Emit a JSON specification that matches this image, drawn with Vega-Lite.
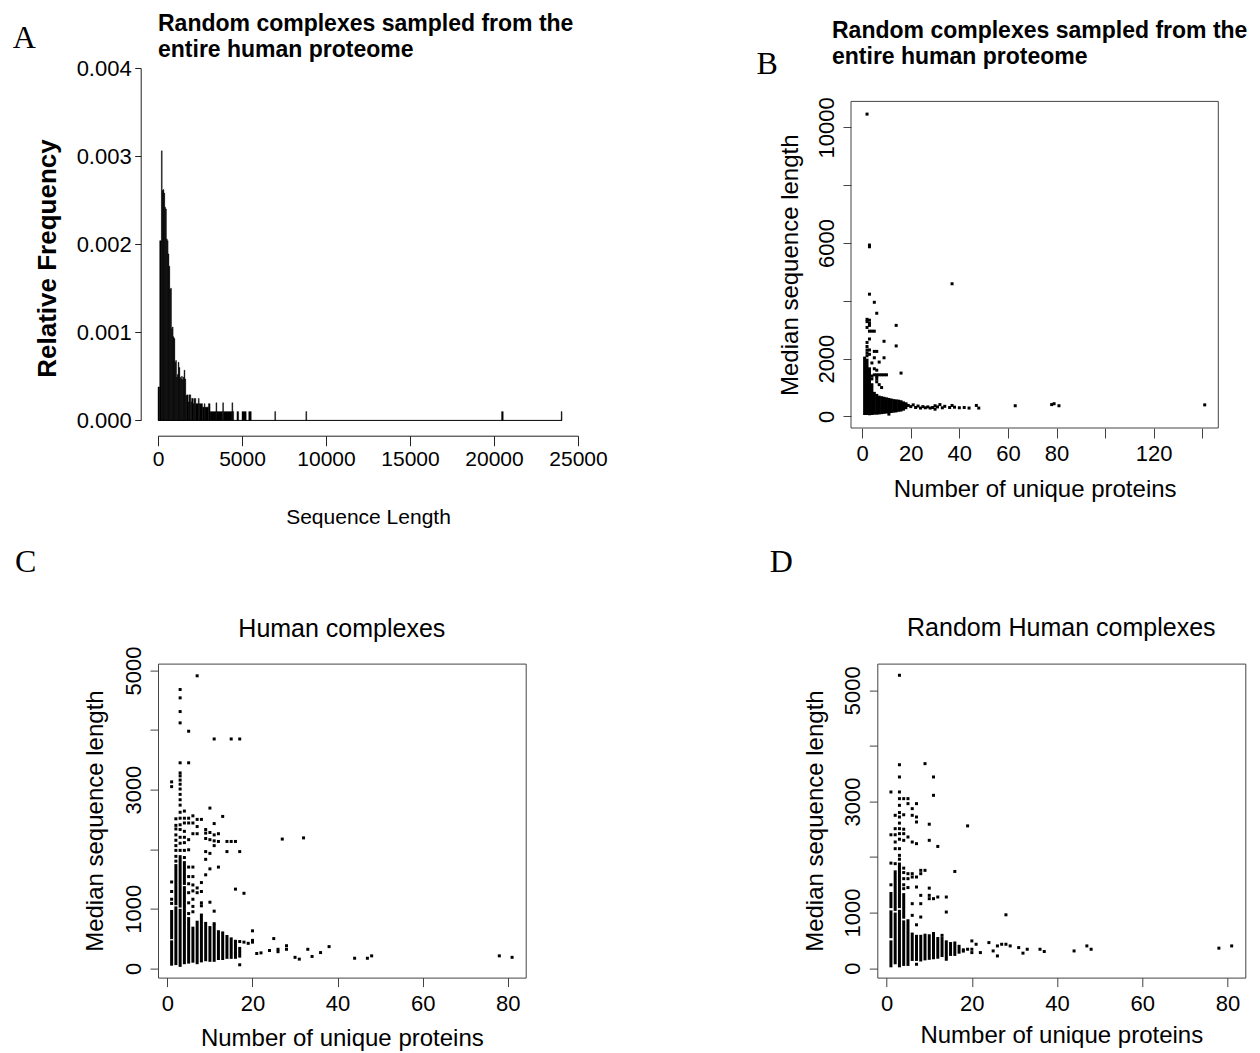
{
"$schema": "https://vega.github.io/schema/vega-lite/v6.json",
"background": "white",
"padding": {"left": 12, "top": 13, "right": 0, "bottom": 0},
"spacing": 16.6,
"config": {
 "font": "Liberation Sans",
 "view": {"stroke": null},
 "axis": {"grid": false, "labelFont": "Liberation Sans", "titleFont": "Liberation Sans", "labelColor": "black", "titleColor": "black", "labelFlush": false, "labelOverlap": false, "titleFontWeight": "normal", "tickColor": "#444", "domainColor": "#444", "tickWidth": 1, "domainWidth": 1, "minExtent": 0},
 "title": {"font": "Liberation Sans", "color": "black"}
},
"datasets": {
 "hist": [
  {"s":0,"e":100,"d":0.00038},{"s":100,"e":200,"d":0.00204},{"s":200,"e":250,"d":0.00306},{"s":250,"e":300,"d":0.00261},{"s":300,"e":350,"d":0.00262},{"s":350,"e":400,"d":0.00258},{"s":400,"e":450,"d":0.00242},{"s":450,"e":500,"d":0.0024},{"s":500,"e":550,"d":0.00206},{"s":550,"e":600,"d":0.00204},{"s":600,"e":650,"d":0.00189},{"s":650,"e":700,"d":0.00175},{"s":700,"e":750,"d":0.00149},{"s":750,"e":800,"d":0.0015},{"s":800,"e":850,"d":0.00104},{"s":850,"e":900,"d":0.00106},{"s":900,"e":950,"d":0.00095},{"s":950,"e":1000,"d":0.00093},{"s":1000,"e":1050,"d":0.00066},{"s":1050,"e":1100,"d":0.00068},{"s":1100,"e":1150,"d":0.00049},{"s":1150,"e":1200,"d":0.00052},{"s":1200,"e":1250,"d":0.00066},{"s":1250,"e":1300,"d":0.0006},{"s":1300,"e":1350,"d":0.00049},{"s":1350,"e":1400,"d":0.00047},{"s":1400,"e":1450,"d":0.0005},{"s":1450,"e":1500,"d":0.00046},{"s":1500,"e":1550,"d":0.00049},{"s":1550,"e":1600,"d":0.00057},{"s":1600,"e":1650,"d":0.00047},{"s":1650,"e":1700,"d":0.00028},{"s":1700,"e":1800,"d":0.00029},{"s":1800,"e":1850,"d":0.00021},{"s":1850,"e":1950,"d":0.00029},{"s":1950,"e":2000,"d":0.00021},{"s":2000,"e":2100,"d":0.00025},{"s":2100,"e":2150,"d":0.00019},{"s":2150,"e":2250,"d":0.00025},{"s":2250,"e":2400,"d":0.00019},{"s":2400,"e":2450,"d":0.00025},{"s":2450,"e":2650,"d":0.00019},{"s":2650,"e":2750,"d":0.00015},{"s":2750,"e":2800,"d":0.00019},{"s":2800,"e":3000,"d":0.00015},{"s":3000,"e":3100,"d":0.00019},{"s":3100,"e":3450,"d":0.0001},{"s":3450,"e":3500,"d":0.0002},{"s":3500,"e":3850,"d":0.0001},{"s":3850,"e":3900,"d":0.0002},{"s":3900,"e":4400,"d":0.0001},{"s":4400,"e":4450,"d":0.0002},{"s":4450,"e":4500,"d":0.0001},{"s":4700,"e":4800,"d":0.0001},{"s":5000,"e":5250,"d":0.0001},{"s":5400,"e":5550,"d":0.0001},{"s":6950,"e":7000,"d":0.0001},{"s":8800,"e":8850,"d":0.0001},{"s":20450,"e":20550,"d":0.0001},{"s":24000,"e":24050,"d":0.0001}
 ],
 "bcol": [
  {"n":1,"lo":50,"hi":2070},{"n":2,"lo":50,"hi":2000},{"n":3,"lo":40,"hi":1700},{"n":4,"lo":50,"hi":1150},{"n":5,"lo":60,"hi":850},{"n":6,"lo":60,"hi":780},{"n":7,"lo":70,"hi":720},{"n":8,"lo":80,"hi":700},{"n":9,"lo":90,"hi":680},{"n":10,"lo":100,"hi":660},{"n":11,"lo":110,"hi":640},{"n":12,"lo":120,"hi":620},{"n":13,"lo":130,"hi":600},{"n":14,"lo":140,"hi":590},{"n":15,"lo":160,"hi":580},{"n":16,"lo":170,"hi":560},{"n":17,"lo":200,"hi":520},{"n":18,"lo":250,"hi":480}
 ],
 "bpt": [
  {"n":2,"m":10460},{"n":3,"m":5930},{"n":3,"m":5870},{"n":37,"m":4590},{"n":3,"m":4230},{"n":5,"m":3950},{"n":6,"m":3570},{"n":2,"m":3360},{"n":3,"m":3330},{"n":2,"m":3280},{"n":3,"m":3220},{"n":3,"m":3150},{"n":2,"m":3080},{"n":14,"m":3150},{"n":3,"m":2950},{"n":4,"m":2950},{"n":5,"m":2950},{"n":9,"m":2600},{"n":3,"m":2680},{"n":2,"m":2560},{"n":14,"m":2440},{"n":2,"m":2100},{"n":2,"m":2200},{"n":2,"m":2300},{"n":2,"m":2420},{"n":3,"m":2300},{"n":3,"m":2150},{"n":5,"m":2250},{"n":6,"m":2250},{"n":5,"m":2030},{"n":9,"m":2030},{"n":7,"m":1880},{"n":4,"m":1850},{"n":5,"m":1650},{"n":6,"m":1600},{"n":16,"m":1500},{"n":5,"m":1440},{"n":6,"m":1440},{"n":7,"m":1440},{"n":8,"m":1440},{"n":9,"m":1440},{"n":10,"m":1440},{"n":6,"m":1380},{"n":6,"m":1300},{"n":6,"m":1200},{"n":7,"m":1100},{"n":8,"m":1000},{"n":4,"m":1400},{"n":4,"m":1300},{"n":11,"m":80},{"n":18,"m":430},{"n":19,"m":380},{"n":20,"m":340},{"n":21,"m":400},{"n":22,"m":310},{"n":23,"m":360},{"n":24,"m":290},{"n":25,"m":340},{"n":26,"m":300},{"n":27,"m":330},{"n":28,"m":290},{"n":29,"m":310},{"n":30,"m":250},{"n":30,"m":370},{"n":31,"m":330},{"n":32,"m":410},{"n":33,"m":300},{"n":34,"m":350},{"n":36,"m":310},{"n":37,"m":380},{"n":38,"m":320},{"n":40,"m":300},{"n":42,"m":310},{"n":44,"m":290},{"n":47,"m":380},{"n":48,"m":290},{"n":63,"m":370},{"n":78,"m":410},{"n":79,"m":440},{"n":81,"m":370},{"n":141,"m":400}
 ],
 "ccol": [
  {"n":1,"lo":45,"hi":470},{"n":1,"lo":490,"hi":980},{"n":2,"lo":55,"hi":1040},{"n":2,"lo":1060,"hi":1750},{"n":3,"lo":25,"hi":1000},{"n":3,"lo":1020,"hi":1900},{"n":4,"lo":70,"hi":1380},{"n":4,"lo":1400,"hi":1800},{"n":5,"lo":80,"hi":860},{"n":6,"lo":95,"hi":700},{"n":7,"lo":70,"hi":800},{"n":8,"lo":100,"hi":920},{"n":9,"lo":120,"hi":780},{"n":10,"lo":110,"hi":710},{"n":11,"lo":110,"hi":740},{"n":12,"lo":140,"hi":640},{"n":13,"lo":140,"hi":620},{"n":14,"lo":160,"hi":560},{"n":15,"lo":160,"hi":520},{"n":16,"lo":160,"hi":480},{"n":17,"lo":180,"hi":360}
 ],
 "cpt": [
  {"n":1,"m":1090},{"n":1,"m":1160},{"n":1,"m":1290},{"n":1,"m":1450},{"n":1,"m":3050},{"n":1,"m":3130},
  {"n":2,"m":1800},{"n":2,"m":1880},{"n":2,"m":1980},{"n":2,"m":2060},{"n":2,"m":2150},{"n":2,"m":2240},{"n":2,"m":2340},{"n":2,"m":2400},{"n":2,"m":2510},
  {"n":3,"m":1980},{"n":3,"m":2100},{"n":3,"m":2200},{"n":3,"m":2330},{"n":3,"m":2410},{"n":3,"m":2520},{"n":3,"m":2620},{"n":3,"m":2740},{"n":3,"m":2830},{"n":3,"m":2920},{"n":3,"m":3010},{"n":3,"m":3090},{"n":3,"m":3160},{"n":3,"m":3230},{"n":3,"m":3280},{"n":3,"m":3450},{"n":3,"m":4120},{"n":3,"m":4310},{"n":3,"m":4540},{"n":3,"m":4680},
  {"n":4,"m":1860},{"n":4,"m":1980},{"n":4,"m":2110},{"n":4,"m":2200},{"n":4,"m":2300},{"n":4,"m":2440},{"n":4,"m":2520},{"n":4,"m":2640},
  {"n":5,"m":920},{"n":5,"m":1100},{"n":5,"m":1270},{"n":5,"m":1420},{"n":5,"m":1540},{"n":5,"m":1700},{"n":5,"m":1990},{"n":5,"m":2160},{"n":5,"m":2440},{"n":5,"m":2520},{"n":5,"m":3450},{"n":5,"m":3980},
  {"n":6,"m":950},{"n":6,"m":1040},{"n":6,"m":1160},{"n":6,"m":1300},{"n":6,"m":1400},{"n":6,"m":1540},{"n":6,"m":1700},{"n":6,"m":2260},{"n":6,"m":2440},{"n":6,"m":2560},
  {"n":7,"m":1270},{"n":7,"m":1350},{"n":7,"m":2260},{"n":7,"m":2380},{"n":7,"m":2500},{"n":7,"m":4910},
  {"n":8,"m":1050},{"n":8,"m":1100},{"n":8,"m":1290},{"n":8,"m":1440},{"n":8,"m":2500},
  {"n":9,"m":1570},{"n":9,"m":1830},{"n":9,"m":1960},{"n":9,"m":2180},{"n":9,"m":2270},{"n":9,"m":2330},
  {"n":10,"m":1110},{"n":10,"m":1670},{"n":10,"m":1930},{"n":10,"m":2160},{"n":10,"m":2280},{"n":10,"m":2690},
  {"n":11,"m":750},{"n":11,"m":960},{"n":11,"m":2060},{"n":11,"m":2140},{"n":11,"m":2240},{"n":11,"m":2430},{"n":11,"m":3850},
  {"n":12,"m":1700},{"n":12,"m":2130},{"n":12,"m":2260},{"n":13,"m":2550},{"n":14,"m":1960},{"n":14,"m":2130},{"n":15,"m":2130},{"n":15,"m":3850},
  {"n":16,"m":1330},{"n":16,"m":2130},{"n":16,"m":250},{"n":17,"m":1960},{"n":17,"m":3850},{"n":17,"m":60},{"n":17,"m":450},
  {"n":18,"m":440},{"n":18,"m":1260},{"n":19,"m":420},{"n":20,"m":440},{"n":20,"m":470},{"n":20,"m":630},{"n":21,"m":250},{"n":22,"m":260},{"n":24,"m":300},{"n":25,"m":500},{"n":26,"m":280},{"n":26,"m":320},{"n":27,"m":2170},{"n":28,"m":320},{"n":28,"m":380},{"n":30,"m":185},{"n":31,"m":155},{"n":32,"m":2190},{"n":33,"m":320},{"n":34,"m":200},{"n":36,"m":265},{"n":38,"m":365},{"n":44,"m":170},{"n":47,"m":170},{"n":48,"m":210},{"n":78,"m":210},{"n":81,"m":185}
 ],
 "dcol": [
  {"n":1,"lo":15,"hi":500},{"n":1,"lo":540,"hi":1040},{"n":1,"lo":1080,"hi":1370},{"n":2,"lo":70,"hi":1000},{"n":2,"lo":1030,"hi":1760},{"n":3,"lo":15,"hi":1050},{"n":3,"lo":1080,"hi":1900},{"n":4,"lo":40,"hi":860},{"n":4,"lo":890,"hi":1350},{"n":5,"lo":40,"hi":880},{"n":6,"lo":130,"hi":640},{"n":7,"lo":130,"hi":600},{"n":8,"lo":120,"hi":600},{"n":9,"lo":140,"hi":620},{"n":10,"lo":150,"hi":610},{"n":11,"lo":160,"hi":650},{"n":12,"lo":170,"hi":560},{"n":13,"lo":200,"hi":560},{"n":14,"lo":180,"hi":500},{"n":15,"lo":220,"hi":470},{"n":16,"lo":220,"hi":480},{"n":17,"lo":260,"hi":420},{"n":18,"lo":280,"hi":330}
 ],
 "dpt": [
  {"n":1,"m":1500},{"n":1,"m":1890},{"n":1,"m":2400},{"n":1,"m":3170},
  {"n":2,"m":1880},{"n":2,"m":2150},{"n":2,"m":2270},{"n":2,"m":2400},{"n":2,"m":2510},{"n":2,"m":2750},
  {"n":3,"m":1960},{"n":3,"m":2030},{"n":3,"m":2150},{"n":3,"m":2320},{"n":3,"m":2420},{"n":3,"m":2510},{"n":3,"m":2610},{"n":3,"m":2720},{"n":3,"m":2800},{"n":3,"m":2930},{"n":3,"m":3050},{"n":3,"m":3170},{"n":3,"m":3440},{"n":3,"m":3660},{"n":3,"m":5270},
  {"n":4,"m":1430},{"n":4,"m":1500},{"n":4,"m":1610},{"n":4,"m":1720},{"n":4,"m":1800},{"n":4,"m":2300},{"n":4,"m":2420},{"n":4,"m":2500},{"n":4,"m":2760},{"n":4,"m":3050},
  {"n":5,"m":1450},{"n":5,"m":1610},{"n":5,"m":1700},{"n":5,"m":2360},{"n":5,"m":2960},{"n":5,"m":3050},
  {"n":6,"m":950},{"n":6,"m":1160},{"n":6,"m":1640},{"n":6,"m":1700},{"n":6,"m":2270},{"n":6,"m":2750},{"n":6,"m":2870},
  {"n":7,"m":70},{"n":7,"m":780},{"n":7,"m":1460},{"n":7,"m":1640},{"n":7,"m":2240},{"n":7,"m":2630},{"n":7,"m":2720},{"n":7,"m":2960},
  {"n":8,"m":920},{"n":8,"m":1160},{"n":8,"m":1310},{"n":8,"m":1700},{"n":8,"m":1760},
  {"n":9,"m":1760},{"n":9,"m":3680},
  {"n":10,"m":1250},{"n":10,"m":1310},{"n":10,"m":1440},{"n":10,"m":2300},{"n":10,"m":2590},
  {"n":11,"m":1250},{"n":11,"m":3110},{"n":11,"m":3440},{"n":12,"m":1280},{"n":12,"m":2190},{"n":13,"m":590},{"n":14,"m":160},{"n":14,"m":1010},{"n":14,"m":1280},{"n":16,"m":1740},
  {"n":18,"m":330},{"n":19,"m":2560},{"n":19,"m":340},{"n":20,"m":280},{"n":20,"m":340},{"n":20,"m":490},{"n":21,"m":430},{"n":22,"m":280},{"n":24,"m":460},{"n":25,"m":310},{"n":26,"m":220},{"n":26,"m":400},{"n":27,"m":430},{"n":28,"m":960},{"n":28,"m":430},{"n":29,"m":400},{"n":31,"m":370},{"n":32,"m":270},{"n":33,"m":340},{"n":36,"m":340},{"n":37,"m":300},{"n":44,"m":310},{"n":47,"m":400},{"n":48,"m":340},{"n":78,"m":360},{"n":81,"m":400}
 ]
},
"vconcat": [
 {"hconcat": [
  {
   "width": 420, "height": 352.4,
   "title": {"text": ["Random complexes sampled from the", "entire human proteome"], "anchor": "start", "frame": "group", "fontSize": 23, "fontWeight": "bold", "baseline": "bottom", "lineHeight": 26, "offset": -63},
   "layer": [
    {"data": {"name": "hist"}, "mark": {"type": "rect", "color": "black", "stroke": "black", "strokeWidth": 0.4},
     "encoding": {
      "x": {"field": "s", "type": "quantitative", "title": "Sequence Length", "scale": {"domain": [0, 25000], "nice": false, "zero": false},
            "axis": {"values": [0, 5000, 10000, 15000, 20000, 25000], "format": "d", "offset": 15.3, "tickSize": 10, "domainColor": "#222", "tickColor": "#222", "labelFontSize": 21, "labelPadding": 3, "titleFontSize": 21, "titlePadding": 37}},
      "x2": {"field": "e"},
      "y": {"field": "d", "type": "quantitative", "title": "Relative Frequency", "scale": {"domain": [0, 0.004], "nice": false},
            "axis": {"values": [0, 0.001, 0.002, 0.003, 0.004], "format": ".3f", "offset": 17.3, "tickSize": 6, "domainColor": "#222", "tickColor": "#222", "labelFontSize": 22, "labelAngle": 0, "labelAlign": "right", "labelBaseline": "middle", "labelPadding": 3.5, "titleFontSize": 26, "titleFontWeight": "bold", "titleBaseline": "alphabetic", "titlePadding": 21, "titleY": 190}},
      "y2": {"datum": 0}
     }},
    {"data": {"values": [{}]}, "mark": {"type": "rule", "color": "black", "strokeWidth": 1},
     "encoding": {"x": {"datum": 0, "type": "quantitative"}, "x2": {"datum": 24050}, "y": {"datum": 0, "type": "quantitative"}}},
    {"data": {"values": [{"t": "A"}]}, "mark": {"type": "text", "font": "Liberation Serif", "fontSize": 32, "align": "left", "baseline": "alphabetic", "color": "black"},
     "encoding": {"x": {"datum": -8649, "type": "quantitative"}, "y": {"datum": 0.004227, "type": "quantitative"}, "text": {"field": "t"}}}
   ]
  },
  {
   "width": 367.3, "height": 360,
   "title": {"text": ["Random complexes sampled from the", "entire human proteome"], "anchor": "start", "frame": "group", "fontSize": 23, "fontWeight": "bold", "baseline": "bottom", "lineHeight": 26, "offset": -43.9, "dx": -19},
   "layer": [
    {"data": {"values": [{}]}, "mark": {"type": "rect", "fillOpacity": 0, "stroke": "#444", "strokeWidth": 1},
     "encoding": {"x": {"datum": -4.6, "type": "quantitative"}, "x2": {"datum": 146.6}, "y": {"datum": -400, "type": "quantitative"}, "y2": {"datum": 10900}}},
    {"data": {"name": "bcol"}, "mark": {"type": "rule", "strokeWidth": 3, "color": "black"},
     "encoding": {
      "x": {"field": "n", "type": "quantitative", "title": "Number of unique proteins", "scale": {"domain": [-4.6, 146.6], "nice": false, "zero": false},
            "axis": {"values": [0, 20, 40, 60, 80, 100, 120, 140], "format": "d", "labelExpr": "datum.value == 100 || datum.value == 140 ? '' : datum.label", "domain": false, "tickSize": 10, "labelFontSize": 22, "labelPadding": 5, "titleFontSize": 24, "titlePadding": 13}},
      "y": {"field": "lo", "type": "quantitative", "title": "Median sequence length", "scale": {"domain": [-400, 12055.5], "nice": false, "zero": false},
            "axis": {"values": [0, 2000, 4000, 6000, 8000, 10000], "format": "d", "labelExpr": "datum.value == 4000 || datum.value == 8000 ? '' : datum.label", "domain": false, "tickSize": 8, "labelAngle": 270, "labelAlign": "center", "labelBaseline": "alphabetic", "labelFontSize": 22, "labelPadding": 10, "titleFontSize": 24, "titleBaseline": "alphabetic", "titlePadding": 18, "titleY": 196.7}},
      "y2": {"field": "hi"}
     }},
    {"data": {"name": "bpt"}, "mark": {"type": "square", "size": 9, "color": "black", "opacity": 1},
     "encoding": {"x": {"field": "n", "type": "quantitative", "title": "Number of unique proteins"}, "y": {"field": "m", "type": "quantitative", "title": "Median sequence length"}}},
    {"data": {"values": [{"t": "B"}]}, "mark": {"type": "text", "font": "Liberation Serif", "fontSize": 32, "align": "left", "baseline": "alphabetic", "color": "black"},
     "encoding": {"x": {"datum": -43.5, "type": "quantitative"}, "y": {"datum": 11858, "type": "quantitative"}, "text": {"field": "t"}}}
   ]
  }
 ], "spacing": 273, "bounds": "flush"},
 {"hconcat": [
  {
   "width": 367.7, "height": 314,
   "view": {"stroke": "#444", "strokeWidth": 1},
   "title": {"text": "Human complexes", "anchor": "middle", "frame": "group", "fontSize": 25, "fontWeight": "normal", "baseline": "bottom", "offset": -121.5},
   "layer": [
    {"data": {"name": "ccol"}, "mark": {"type": "rule", "strokeWidth": 3, "color": "black"},
     "encoding": {
      "x": {"field": "n", "type": "quantitative", "title": "Number of unique proteins", "scale": {"domain": [-2.2, 84.2], "nice": false, "zero": false},
            "axis": {"values": [0, 20, 40, 60, 80], "format": "d", "domain": false, "tickSize": 9, "labelFontSize": 22, "labelPadding": 7, "titleFontSize": 24, "titlePadding": 12}},
      "y": {"field": "lo", "type": "quantitative", "title": "Median sequence length", "scale": {"domain": [-155, 5115], "nice": false, "zero": false},
            "axis": {"values": [0, 1000, 2000, 3000, 4000, 5000], "format": "d", "labelExpr": "datum.value == 2000 || datum.value == 4000 ? '' : datum.label", "domain": false, "tickSize": 8, "labelAngle": 270, "labelAlign": "center", "labelBaseline": "alphabetic", "labelFontSize": 22, "labelPadding": 10, "titleFontSize": 24, "titleBaseline": "alphabetic", "titlePadding": 20}},
      "y2": {"field": "hi"}
     }},
    {"data": {"name": "cpt"}, "mark": {"type": "square", "size": 9, "color": "black", "opacity": 1},
     "encoding": {"x": {"field": "n", "type": "quantitative", "title": "Number of unique proteins"}, "y": {"field": "m", "type": "quantitative", "title": "Median sequence length"}}},
    {"data": {"values": [{"t": "C"}]}, "mark": {"type": "text", "font": "Liberation Serif", "fontSize": 32, "align": "left", "baseline": "alphabetic", "color": "black"},
     "encoding": {"x": {"datum": -35.8, "type": "quantitative"}, "y": {"datum": 6659, "type": "quantitative"}, "text": {"field": "t"}}}
   ]
  },
  {
   "width": 368, "height": 314,
   "view": {"stroke": "#444", "strokeWidth": 1},
   "title": {"text": "Random Human complexes", "anchor": "middle", "frame": "group", "fontSize": 25, "fontWeight": "normal", "baseline": "bottom", "offset": -119.9},
   "layer": [
    {"data": {"name": "dcol"}, "mark": {"type": "rule", "strokeWidth": 3, "color": "black"},
     "encoding": {
      "x": {"field": "n", "type": "quantitative", "title": "Number of unique proteins", "scale": {"domain": [-2.2, 84.2], "nice": false, "zero": false},
            "axis": {"values": [0, 20, 40, 60, 80], "format": "d", "domain": false, "tickSize": 9, "labelFontSize": 22, "labelPadding": 7, "titleFontSize": 24, "titlePadding": 9.3}},
      "y": {"field": "lo", "type": "quantitative", "title": "Median sequence length", "scale": {"domain": [-170, 5480], "nice": false, "zero": false},
            "axis": {"values": [0, 1000, 2000, 3000, 4000, 5000], "format": "d", "labelExpr": "datum.value == 2000 || datum.value == 4000 ? '' : datum.label", "domain": false, "tickSize": 8, "labelAngle": 270, "labelAlign": "center", "labelBaseline": "alphabetic", "labelFontSize": 22, "labelPadding": 10, "titleFontSize": 24, "titleBaseline": "alphabetic", "titlePadding": 18.7}},
      "y2": {"field": "hi"}
     }},
    {"data": {"name": "dpt"}, "mark": {"type": "square", "size": 9, "color": "black", "opacity": 1},
     "encoding": {"x": {"field": "n", "type": "quantitative", "title": "Number of unique proteins"}, "y": {"field": "m", "type": "quantitative", "title": "Median sequence length"}}},
    {"data": {"values": [{"t": "D"}]}, "mark": {"type": "text", "font": "Liberation Serif", "fontSize": 32, "align": "left", "baseline": "alphabetic", "color": "black"},
     "encoding": {"x": {"datum": -27.44, "type": "quantitative"}, "y": {"datum": 7135, "type": "quantitative"}, "text": {"field": "t"}}}
   ]
  }
 ], "spacing": 351.3, "bounds": "flush"}
]
}
